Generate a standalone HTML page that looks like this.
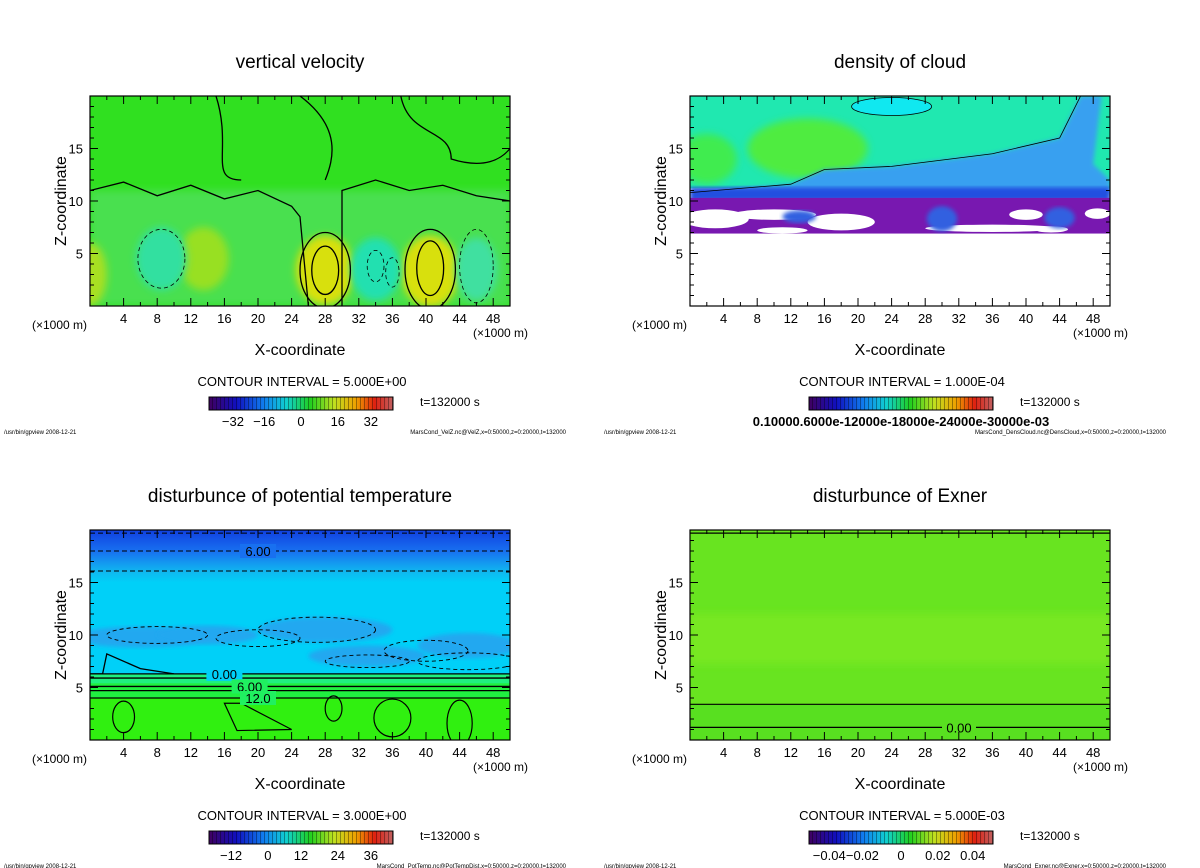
<!DOCTYPE html>
<html><head><meta charset="utf-8"><style>
html,body{margin:0;padding:0;background:#fff;}
svg{display:block;font-family:"Liberation Sans","DejaVu Sans",sans-serif;}
</style></head><body>
<svg id="fig" width="1200" height="868" viewBox="0 0 1200 868">
<defs>
<filter id="blur4" x="-20%" y="-20%" width="140%" height="140%"><feGaussianBlur stdDeviation="4"/></filter>
<filter id="blur2"><feGaussianBlur stdDeviation="2"/></filter>
<linearGradient id="cbVel" x1="0" x2="1"><stop offset="0" stop-color="#400060"/><stop offset="0.15" stop-color="#1010c0"/><stop offset="0.3" stop-color="#1080f0"/><stop offset="0.42" stop-color="#10d0d0"/><stop offset="0.55" stop-color="#20d020"/><stop offset="0.68" stop-color="#c0e020"/><stop offset="0.8" stop-color="#f0a000"/><stop offset="0.9" stop-color="#e02010"/><stop offset="1" stop-color="#c06060"/></linearGradient>
<pattern id="stripes" width="4" height="20" patternUnits="userSpaceOnUse"><rect x="0" y="0" width="1" height="20" fill="rgba(0,0,0,0.35)"/></pattern>
<linearGradient id="ptBg" x1="0" y1="0" x2="0" y2="1"><stop offset="0" stop-color="#1040e0"/><stop offset="0.1" stop-color="#1870f0"/><stop offset="0.2" stop-color="#10b8f0"/><stop offset="0.25" stop-color="#00d0f8"/><stop offset="1" stop-color="#00d0f8"/></linearGradient>
<clipPath id="c1"><rect x="90" y="96" width="420" height="210"/></clipPath>
<clipPath id="c2"><rect x="690" y="96" width="420" height="210"/></clipPath>
<clipPath id="c3"><rect x="90" y="530" width="420" height="210"/></clipPath>
<clipPath id="c4"><rect x="690" y="530" width="420" height="210"/></clipPath>
</defs>
<g id="root"></g>
</svg>
<script>
// axis data
const xTicks = [4,8,12,16,20,24,28,32,36,40,44,48];
const zTicks = [5,10,15];
const titles = ["vertical velocity","density of cloud","disturbunce of potential temperature","disturbunce of Exner"];
const intervals = ["CONTOUR INTERVAL = 5.000E+00","CONTOUR INTERVAL = 1.000E-04","CONTOUR INTERVAL = 3.000E+00","CONTOUR INTERVAL = 5.000E-03"];
const footers = ["MarsCond_VelZ.nc@VelZ,x=0:50000,z=0:20000,t=132000","MarsCond_DensCloud.nc@DensCloud,x=0:50000,z=0:20000,t=132000","MarsCond_PotTemp.nc@PotTempDist,x=0:50000,z=0:20000,t=132000","MarsCond_Exner.nc@Exner,x=0:50000,z=0:20000,t=132000"];
const cbLabels = [["−32","−16","0","16","32"],["0.10000.6000e-12000e-18000e-24000e-30000e-03"],["−12","0","12","24","36"],["−0.04","−0.02","0","0.02","0.04"]];
const cbFrac = [[0.13,0.3,0.5,0.7,0.88],[0.5],[0.12,0.32,0.5,0.7,0.88],[0.11,0.29,0.5,0.7,0.89]];
// panel 3 contour levels (z in km) and labels
const ptLevels = [19.7,18.0,16.1,6.3,5.9,5.1,4.7,4.0];
const ptDash = [1,1,1,0,0,0,0,0];
const ptLabels = [["6.00",18.0,20],["0.00",6.3,16],["6.00",5.1,19],["12.0",4.0,20]];
// panel 1 blobs: [x km, z km, rx km, rz km, color]
const velBlobs = [[28,3.4,3.5,3.3,"#d8e010"],[40.5,3.3,3.5,3.4,"#d8e010"],[34,3.5,3,3,"#20e0b0"],[13.5,4.5,3,3,"#98e020"],[8.5,4.5,3,3,"#30e0a0"],[46,3.5,2.5,3,"#40e0a0"],[0,3,2,3,"#a8e020"]];
const exLevels = [1.2,3.4,19.7];

const NS="http://www.w3.org/2000/svg";
const root=document.getElementById('root');
function mk(tag,attrs,parent){const e=document.createElementNS(NS,tag);for(const k in attrs)e.setAttribute(k,attrs[k]);(parent||root).appendChild(e);return e;}
const panels=[{x:90,y:96},{x:690,y:96},{x:90,y:530},{x:690,y:530}];
const W=420,H=210;
function sx(p,v){return p.x+v/50*W;}
function sz(p,v){return p.y+H-v/20*H;}

panels.forEach((p,i)=>{
  const g=mk('g',{});
  
  
  const cx=p.x+W/2;
  const t=mk('text',{x:cx,y:p.y-28,'text-anchor':'middle','font-size':19},g);t.textContent=titles[i];
  
  const plot=mk('g',{'clip-path':'url(#c'+(i+1)+')'},g);
  
  if(i===0){
    mk('rect',{x:p.x,y:p.y,width:W,height:H,fill:'#30e020'},plot);
    mk('rect',{x:p.x,y:sz(p,11),width:W,height:H*11/20,fill:'#48e050',filter:'url(#blur4)'},plot);
    velBlobs.forEach(b=>{mk('ellipse',{cx:sx(p,b[0]),cy:sz(p,b[1]),rx:b[2]/50*W,ry:b[3]/20*H,fill:b[4],filter:'url(#blur4)'},plot);});
    [[28,3.4,1.6,2.3],[40.5,3.6,1.6,2.6],[28,3.4,3,3.6],[40.5,3.5,3,3.8]].forEach(c=>{mk('ellipse',{cx:sx(p,c[0]),cy:sz(p,c[1]),rx:c[2]/50*W,ry:c[3]/20*H,fill:'none',stroke:'#000','stroke-width':1.3},plot);});
    [[34,3.8,1,1.5],[36,3.2,0.8,1.4],[8.5,4.5,2.8,2.8],[46,3.8,2,3.5]].forEach(c=>{mk('ellipse',{cx:sx(p,c[0]),cy:sz(p,c[1]),rx:c[2]/50*W,ry:c[3]/20*H,fill:'none',stroke:'#000','stroke-width':0.8,'stroke-dasharray':'4,3'},plot);});
    mk('path',{d:`M${sx(p,0)},${sz(p,11)} L${sx(p,4)},${sz(p,11.8)} L${sx(p,8)},${sz(p,10.5)} L${sx(p,12)},${sz(p,11.5)} L${sx(p,16)},${sz(p,10.2)} L${sx(p,20)},${sz(p,11)} L${sx(p,24)},${sz(p,9.5)} L${sx(p,25)},${sz(p,8.5)} L${sx(p,26)},${sz(p,0)}`,fill:'none',stroke:'#000','stroke-width':1.3},plot);
    mk('path',{d:`M${sx(p,30)},${sz(p,0)} L${sx(p,30)},${sz(p,11)} L${sx(p,34)},${sz(p,12)} L${sx(p,38)},${sz(p,11)} L${sx(p,42)},${sz(p,11.5)} L${sx(p,46)},${sz(p,10.5)} L${sx(p,50)},${sz(p,10)}`,fill:'none',stroke:'#000','stroke-width':1.3},plot);
    mk('path',{d:`M${sx(p,15)},${sz(p,20)} C${sx(p,17)},${sz(p,15)} ${sx(p,14)},${sz(p,12)} ${sx(p,18)},${sz(p,12)}`,fill:'none',stroke:'#000','stroke-width':1.3},plot);
    mk('path',{d:`M${sx(p,25)},${sz(p,20)} C${sx(p,30)},${sz(p,17)} ${sx(p,29)},${sz(p,14)} ${sx(p,28)},${sz(p,12)}`,fill:'none',stroke:'#000','stroke-width':1.3},plot);
    mk('path',{d:`M${sx(p,37)},${sz(p,20)} C${sx(p,38)},${sz(p,16)} ${sx(p,43)},${sz(p,17)} ${sx(p,43)},${sz(p,14)} C${sx(p,47)},${sz(p,13)} ${sx(p,49)},${sz(p,14)} ${sx(p,50)},${sz(p,15)}`,fill:'none',stroke:'#000','stroke-width':1.3},plot);
  } else if(i===1){
    mk('rect',{x:p.x,y:p.y,width:W,height:H,fill:'#fff'},plot);
    mk('rect',{x:p.x,y:p.y,width:W,height:sz(p,11.2)-p.y,fill:'#20e8b0'},plot);
    mk('ellipse',{cx:sx(p,14),cy:sz(p,15),rx:60,ry:30,fill:'#50ec40',filter:'url(#blur4)'},plot);
    mk('ellipse',{cx:sx(p,2),cy:sz(p,14),rx:30,ry:25,fill:'#40ec50',filter:'url(#blur4)'},plot);
    mk('ellipse',{cx:sx(p,24),cy:sz(p,19),rx:40,ry:9,fill:'#10e8f0'},plot);
    mk('path',{d:`M${sx(p,0)},${sz(p,10.8)} L${sx(p,12)},${sz(p,11.6)} L${sx(p,16)},${sz(p,13)} L${sx(p,24)},${sz(p,13.3)} L${sx(p,36)},${sz(p,14.5)} L${sx(p,44)},${sz(p,16)} L${sx(p,46.5)},${sz(p,20)} L${sx(p,49)},${sz(p,20)} L${sx(p,48)},${sz(p,13.5)} L${sx(p,50)},${sz(p,12)} L${sx(p,50)},${sz(p,10.5)} Z`,fill:'#38a0f0',filter:'url(#blur2)'},plot);
    mk('rect',{x:p.x,y:sz(p,11.3),width:W,height:14,fill:'#2050e0',filter:'url(#blur2)'},plot);
    mk('rect',{x:p.x,y:sz(p,10.3),width:W,height:sz(p,6.9)-sz(p,10.3),fill:'#7818b0'},plot);
    [[3,8.3,4,0.9],[10,8.7,5,0.5],[18,8.0,4,0.8],[11,7.2,3,0.3],[40,8.7,2,0.5],[48.5,8.8,1.5,0.5],[36,7.4,8,0.35],[43,7.3,2,0.3]].forEach(c=>mk('ellipse',{cx:sx(p,c[0]),cy:sz(p,c[1]),rx:c[2]/50*W,ry:c[3]/20*H,fill:'#fff'},plot));
    [[30,8.3,1.8,1.2],[44,8.4,1.8,1],[13,8.5,2,0.6]].forEach(c=>mk('ellipse',{cx:sx(p,c[0]),cy:sz(p,c[1]),rx:c[2]/50*W,ry:c[3]/20*H,fill:'#3060e0',filter:'url(#blur2)'},plot));
    mk('ellipse',{cx:sx(p,24),cy:sz(p,19),rx:40,ry:9,fill:'none',stroke:'#000','stroke-width':0.8},plot);
    mk('path',{d:`M${sx(p,0)},${sz(p,10.8)} L${sx(p,12)},${sz(p,11.6)} L${sx(p,16)},${sz(p,13)} L${sx(p,24)},${sz(p,13.3)} L${sx(p,36)},${sz(p,14.5)} L${sx(p,44)},${sz(p,16)} L${sx(p,46.5)},${sz(p,20)}`,fill:'none',stroke:'#000','stroke-width':0.8},plot);
  } else if(i===2){
    mk('rect',{x:p.x,y:p.y,width:W,height:H,fill:'url(#ptBg)'},plot);
    [[6,9.8,8,1],[14,10,6,0.9],[28,10.5,8,1.2],[33,8,7,1],[45,9,6,1.2]].forEach(c=>mk('ellipse',{cx:sx(p,c[0]),cy:sz(p,c[1]),rx:c[2]/50*W,ry:c[3]/20*H,fill:'#20a8f0',filter:'url(#blur2)'},plot));
    mk('rect',{x:p.x,y:sz(p,6.3),width:W,height:sz(p,0)-sz(p,6.3),fill:'#20f080'},plot);
    mk('rect',{x:p.x,y:sz(p,5.4),width:W,height:sz(p,0)-sz(p,5.4),fill:'#20f040'},plot);
    mk('rect',{x:p.x,y:sz(p,4.0),width:W,height:sz(p,0)-sz(p,4.0),fill:'#30f010'},plot);
    ptLevels.forEach((lv,k)=>{const l=mk('line',{x1:p.x,x2:p.x+W,y1:sz(p,lv),y2:sz(p,lv),stroke:'#000','stroke-width':ptDash[k]?1:1.3},plot);if(ptDash[k])l.setAttribute('stroke-dasharray','5,3');});
    mk('path',{d:`M${sx(p,0)},${sz(p,6.3)} L${sx(p,1.5)},${sz(p,6.3)} L${sx(p,2)},${sz(p,8.2)} L${sx(p,6)},${sz(p,6.8)} L${sx(p,10)},${sz(p,6.3)}`,fill:'none',stroke:'#000','stroke-width':1.3},plot);
    [[4,2.2,1.3,1.5],[36,2.1,2.2,1.8],[44,1.6,1.5,2.2],[29,3,1,1.2]].forEach(c=>mk('ellipse',{cx:sx(p,c[0]),cy:sz(p,c[1]),rx:c[2]/50*W,ry:c[3]/20*H,fill:'none',stroke:'#000','stroke-width':1.2},plot));
    mk('path',{d:`M${sx(p,16)},${sz(p,3.5)} L${sx(p,17.5)},${sz(p,0.9)} L${sx(p,24)},${sz(p,1)} L${sx(p,18)},${sz(p,3.5)}Z`,fill:'none',stroke:'#000','stroke-width':1.2},plot);
    [[8,10,6,0.8],[20,9.7,5,0.8],[27,10.5,7,1.2],[33,7.5,5,0.6],[40,8.5,5,1],[45,7.5,6,0.8]].forEach(c=>mk('ellipse',{cx:sx(p,c[0]),cy:sz(p,c[1]),rx:c[2]/50*W,ry:c[3]/20*H,fill:'none',stroke:'#000','stroke-width':0.9,'stroke-dasharray':'4,3'},plot));
    ptLabels.forEach(L=>{const x=sx(p,L[2]),y=sz(p,L[1]);mk('rect',{x:x-18,y:y-7,width:36,height:14,fill:L[1]>10?'#1870f0':(L[1]>6?'#00d0f8':'#20f060')},plot);const tt=mk('text',{x:x,y:y+5,'text-anchor':'middle','font-size':13},plot);tt.textContent=L[0];});
  } else {
    mk('rect',{x:p.x,y:p.y,width:W,height:H,fill:'#68e420'},plot);
    mk('rect',{x:p.x,y:sz(p,12),width:W,height:50,fill:'#78e820',filter:'url(#blur4)'},plot);
    mk('rect',{x:p.x,y:sz(p,3.4),width:W,height:sz(p,0)-sz(p,3.4),fill:'#58e020'},plot);
    exLevels.forEach(lv=>mk('line',{x1:p.x,x2:p.x+W,y1:sz(p,lv),y2:sz(p,lv),stroke:'#000','stroke-width':1.2},plot));
    mk('rect',{x:sx(p,30),y:sz(p,1.2)-7,width:34,height:14,fill:'#58e020'},plot);
    const tt=mk('text',{x:sx(p,30)+17,y:sz(p,1.2)+5,'text-anchor':'middle','font-size':13},plot);tt.textContent='0.00';
  }
  const fr=mk('rect',{x:p.x,y:p.y,width:W,height:H,fill:'none',stroke:'#000','stroke-width':1.2},g);
  
  const xa=mk('g',{},g);
  for(let v=0;v<=50;v+=2){const len=v%4===0?8:4;const X=sx(p,v);mk('line',{x1:X,x2:X,y1:p.y+H,y2:p.y+H-len,stroke:'#000'},xa);mk('line',{x1:X,x2:X,y1:p.y,y2:p.y+len,stroke:'#000'},xa);}
  xTicks.forEach(v=>{const tt=mk('text',{x:sx(p,v),y:p.y+H+17,'text-anchor':'middle','font-size':13},xa);tt.textContent=v;});
  const za=mk('g',{},g);
  for(let v=0;v<=20;v++){const len=v%5===0?8:4;const Y=sz(p,v);mk('line',{x1:p.x,x2:p.x+len,y1:Y,y2:Y,stroke:'#000'},za);mk('line',{x1:p.x+W,x2:p.x+W-len,y1:Y,y2:Y,stroke:'#000'},za);}
  zTicks.forEach(v=>{const tt=mk('text',{x:p.x-7,y:sz(p,v)+5,'text-anchor':'end','font-size':13},za);tt.textContent=v;});
  let tt=mk('text',{x:p.x-58,y:p.y+H+23,'font-size':12},g);tt.textContent='(×1000 m)';
  tt=mk('text',{x:p.x+W+18,y:p.y+H+31,'text-anchor':'end','font-size':12},g);tt.textContent='(×1000 m)';
  tt=mk('text',{x:cx,y:p.y+H+49,'text-anchor':'middle','font-size':16},g);tt.textContent='X-coordinate';
  
  tt=mk('text',{x:0,y:0,'text-anchor':'middle','font-size':16,transform:`translate(${p.x-24},${p.y+H/2}) rotate(-90)`},g);tt.textContent='Z-coordinate';
  
  tt=mk('text',{x:p.x+212,y:p.y+H+80,'text-anchor':'middle','font-size':13},g);tt.textContent=intervals[i];
  
  const cb=mk('g',{},g);
  const bx=p.x+119,by=p.y+301,bw=184,bh=13;
  mk('rect',{x:bx,y:by,width:bw,height:bh,fill:'url(#cbVel)'},cb);
  mk('rect',{x:bx,y:by,width:bw,height:bh,fill:'url(#stripes)'},cb);
  mk('rect',{x:bx,y:by,width:bw,height:bh,fill:'none',stroke:'#000'},cb);
  cbLabels[i].forEach((lab,k)=>{const t2=mk('text',{x:bx+cbFrac[i][k]*bw,y:by+29,'text-anchor':'middle','font-size':13,'font-weight':i===1?'bold':'normal'},cb);t2.textContent=lab;});
  tt=mk('text',{x:p.x+330,y:by+9,'font-size':12},g);tt.textContent='t=132000 s';
  tt=mk('text',{x:p.x-86,y:p.y+H+128,'font-size':6},g);tt.textContent='/usr/bin/gpview  2008-12-21';
  tt=mk('text',{x:p.x+476,y:p.y+H+128,'text-anchor':'end','font-size':6},g);tt.textContent=footers[i];
});
</script>
</body></html>
